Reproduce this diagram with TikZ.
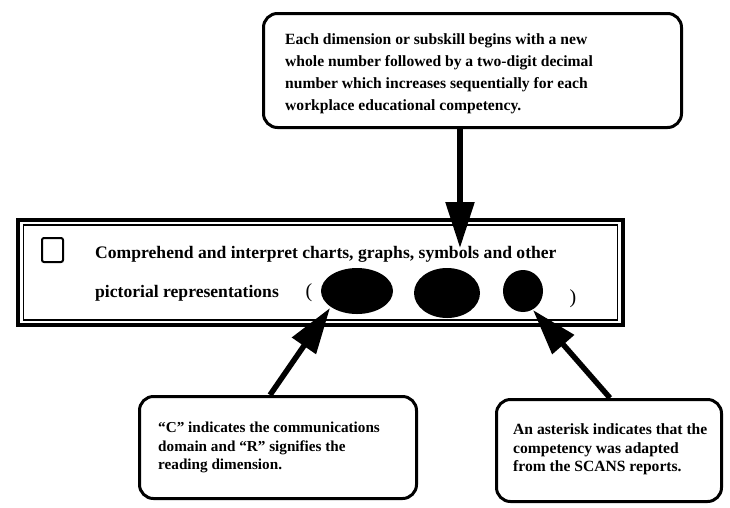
\documentclass[tikz,border=0pt]{standalone}
\usepackage{fontspec}
\setmainfont{Liberation Serif}
\usetikzlibrary{arrows.meta,shapes.geometric}
\begin{document}
\begin{tikzpicture}[x=1pt,y=-1pt,
  callout/.style={draw,line width=3pt,rounded corners=14pt,anchor=north west,inner sep=0pt},
  calltext/.style={anchor=north west,inner sep=0pt,align=left},
  bigarrow/.style={line width=5.5pt,-{Triangle[length=46pt,width=28pt]}},
  blob/.style={ellipse,fill=black,inner sep=0pt},
  paren/.style={inner sep=0pt,font=\fontsize{20}{20}\selectfont}]
\useasboundingbox (0,0) rectangle (730,507);
% callout boxes
\node[callout,minimum width=418pt,minimum height=114pt] (topbox) at (262,12) {};
\node[calltext,font=\bfseries\fontsize{15.6}{22}\selectfont] (toptext) at (285,33)
  {Each dimension or subskill begins with a new\\whole number followed by a two-digit decimal\\number which increases sequentially for each\\workplace educational competency.};
\node[callout,minimum width=277pt,minimum height=102pt] (lbox) at (138,395) {};
\node[calltext,font=\bfseries\fontsize{15.2}{18.5}\selectfont] (ltext) at (158,422)
  {“C” indicates the communications\\domain and “R” signifies the\\reading dimension.};
\node[callout,minimum width=225pt,minimum height=102pt] (rbox) at (495,398) {};
\node[calltext,font=\bfseries\fontsize{15.6}{18.5}\selectfont] (rtext) at (513,423.5)
  {An asterisk indicates that the\\competency was adapted\\from the SCANS reports.};
% main box
\node[draw,line width=4pt,anchor=north west,minimum width=605pt,minimum height=105pt,inner sep=0pt] (main) at (16,218) {};
\node[draw,line width=1.2pt,minimum width=594pt,minimum height=95pt,inner sep=0pt] (maininner) at (main.center) {};
\node[draw,line width=2pt,rounded corners=2pt,minimum width=21pt,minimum height=24pt,inner sep=0pt] (chk) at (52.5,250) {};
\node[calltext,font=\bfseries\fontsize{17.6}{39}\selectfont] (maintext) at (95,246)
  {Comprehend and interpret charts, graphs, symbols and other\\pictorial representations};
\node[paren] (lp) at (309,293) {(};
\node[paren] (rp) at (573,299) {)};
\node[blob,minimum width=72pt,minimum height=46pt] (e1) at (357,291) {};
\node[blob,minimum width=66pt,minimum height=50pt] (e2) at (447,293) {};
\node[blob,minimum width=40pt,minimum height=42pt] (e3) at (523,291) {};
% arrow ends
\path (topbox.north west) ++(198,114) coordinate (tailT);
\coordinate (tipT) at (460,248);
\path (lbox.north west) ++(132,0) coordinate (tailL);
\path (e1.center) ++(-27,17) coordinate (tipL);
\path (rbox.north west) ++(115,0) coordinate (tailR);
\path (e3.center) ++(10,19) coordinate (tipR);
\draw[bigarrow] (tailT) -- (tipT);
\draw[bigarrow] (tailL) -- (tipL);
\draw[bigarrow] (tailR) -- (tipR);
\end{tikzpicture}
\end{document}
